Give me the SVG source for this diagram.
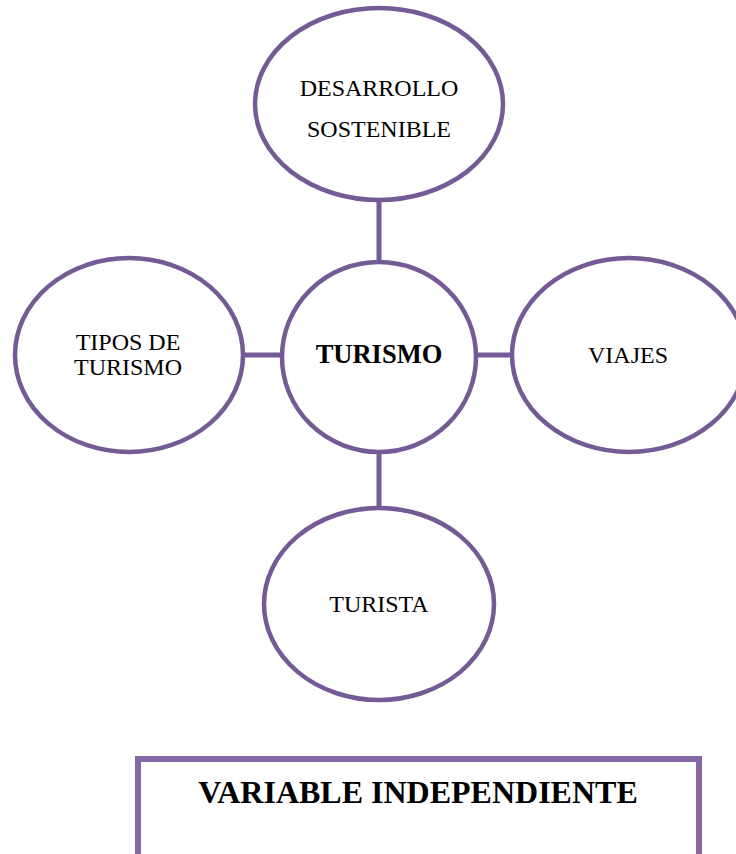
<svg xmlns="http://www.w3.org/2000/svg" width="736" height="854" viewBox="0 0 736 854">
<style>
.n{fill:#fff;stroke:#745b96;stroke-width:4.5}
.c{stroke:#745b96;stroke-width:5;fill:none}
.t{font-family:"Liberation Serif",serif;font-size:24px;fill:#000;text-anchor:middle}
.b{font-family:"Liberation Serif",serif;font-weight:bold;fill:#000;text-anchor:middle}
</style>
<rect width="736" height="854" fill="#fff"/>
<g id="connectors">
<line class="c" x1="379" y1="198" x2="379" y2="264"/>
<line class="c" x1="379" y1="450" x2="379" y2="510"/>
<line class="c" x1="241" y1="355" x2="284" y2="355"/>
<line class="c" x1="474" y1="355" x2="514" y2="355"/>
</g>
<g id="desarrollo">
<ellipse class="n" cx="379" cy="104" rx="124" ry="96"/>
<text class="t" x="379" y="96">DESARROLLO</text>
<text class="t" x="379" y="137">SOSTENIBLE</text>
</g>
<g id="turismo">
<ellipse class="n" cx="379" cy="357" rx="97" ry="95"/>
<text class="b" x="379" y="363" font-size="26.5">TURISMO</text>
</g>
<g id="tipos">
<ellipse class="n" cx="129" cy="355" rx="114" ry="97"/>
<text class="t" x="128" y="350">TIPOS DE</text>
<text class="t" x="128" y="375">TURISMO</text>
</g>
<g id="viajes">
<ellipse class="n" cx="629" cy="355" rx="117" ry="97"/>
<text class="t" x="628" y="363">VIAJES</text>
</g>
<g id="turista">
<ellipse class="n" cx="379" cy="604" rx="115" ry="96"/>
<text class="t" x="379" y="612">TURISTA</text>
</g>
<g id="variable">
<rect x="138" y="759" width="561" height="100" fill="#fff" stroke="#8767a6" stroke-width="6"/>
<text class="b" x="418" y="803" font-size="32">VARIABLE INDEPENDIENTE</text>
</g>
</svg>
